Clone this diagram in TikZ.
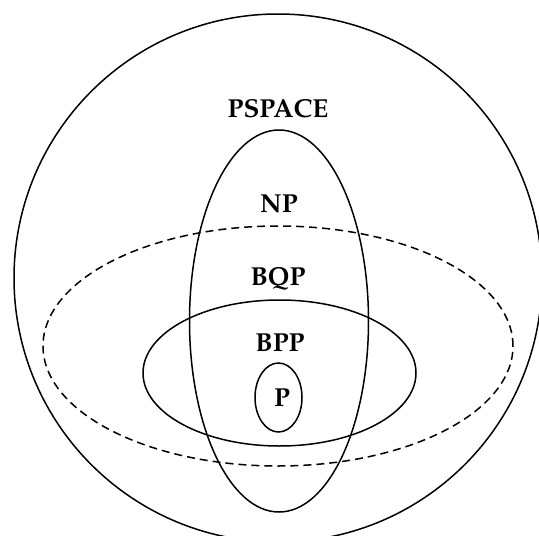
\documentclass[tikz,border=0pt]{standalone}
\usepackage[T1]{fontenc}
\usepackage{mathpazo}
\begin{document}
\begin{tikzpicture}[x=1pt,y=-1pt,
  setline/.style={line width=1.5pt},
  dashline/.style={line width=1.5pt, dash pattern=on 8pt off 5pt},
  lbl/.style={font=\fontsize{26}{31}\selectfont\bfseries, inner sep=0pt, anchor=base}]
\useasboundingbox (0,0) rectangle (539,536);
\clip (0,0) rectangle (539,536);
% PSPACE
\draw[setline] (278,278) circle[radius=264pt];
% BQP (dashed)
\draw[dashline] (278,346) ellipse[x radius=235pt, y radius=120pt];
% NP
\draw[setline] (279,321) ellipse[x radius=89.5pt, y radius=191pt];
% BPP
\draw[setline] (279.5,373) ellipse[x radius=136.5pt, y radius=73pt];
% P
\draw[setline] (278.5,397.5) ellipse[x radius=23.5pt, y radius=34.5pt];
\node[lbl] (pspace) at (278,117) {PSPACE};
\node[lbl] (np) at (279,212.5) {NP};
\node[lbl] (bqp) at (278,285) {BQP};
\node[lbl] (bpp) at (280,351.5) {BPP};
\node[lbl] (p) at (282,406) {P};
\end{tikzpicture}
\end{document}
